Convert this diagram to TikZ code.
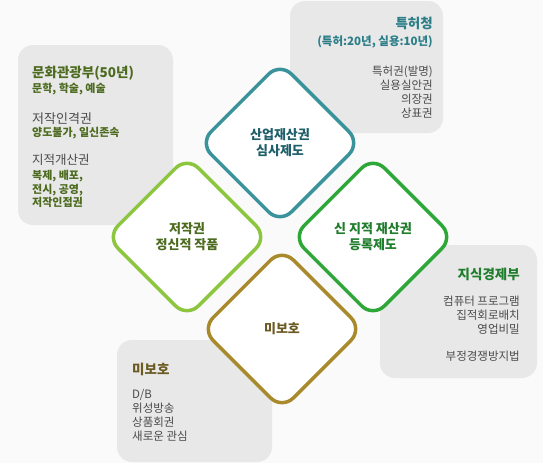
\documentclass[tikz,border=0pt]{standalone}
\usepackage{fontspec}
\setmainfont{Noto Sans CJK KR}
\usetikzlibrary{shapes.geometric}
\definecolor{bgcol}{HTML}{FAFAFA}
\definecolor{boxcol}{HTML}{E8E8E8}
\definecolor{graytxt}{HTML}{4A4A4A}
\definecolor{tealline}{HTML}{3A939B}
\definecolor{tealtxt}{HTML}{1F5F69}
\definecolor{tealhead}{HTML}{2B7E87}
\definecolor{limeline}{HTML}{8CC63E}
\definecolor{limetxt}{HTML}{4D6B1F}
\definecolor{greenline}{HTML}{2DA737}
\definecolor{greentxt}{HTML}{1F7D2C}
\definecolor{oliveline}{HTML}{A88A2C}
\definecolor{olivetxt}{HTML}{6B5A22}
\begin{document}
\begin{tikzpicture} [x=1pt, y=-1pt,
  infobox/.style={fill=boxcol, rounded corners=15pt},
  petal/.style={diamond, aspect=1, fill=white, line width=3.5pt,
    rounded corners=16pt, minimum size=162pt, inner sep=0pt, align=center,
    font=\fontsize{13}{16}\selectfont\bfseries},
  head/.style={inner sep=0pt, font=\fontsize{13.5}{15}\selectfont\bfseries},
  sub/.style={inner sep=0pt, font=\fontsize{11.5}{14}\selectfont},
  subb/.style={inner sep=0pt, font=\fontsize{11}{13.5}\selectfont\bfseries}]
\useasboundingbox (0,0) rectangle (543,463);
\fill[bgcol] (0,0) rectangle (543,463);
% grey boxes
\fill[infobox] (18,45) rectangle (173,225);
\fill[infobox] (290,1) rectangle (443,133);
\fill[infobox] (380,245) rectangle (537,378);
\fill[infobox] (117,340) rectangle (272,462);
% diamonds
\node[petal, draw=tealline, text=tealtxt] (sanup) at (280,143) {\\[-6pt]산업재산권\\심사제도};
\node[petal, draw=limeline, text=limetxt] (jeojak) at (187,237) {저작권\\정신적 작품};
\node[petal, draw=greenline, text=greentxt] (sinji) at (373,237) {\\[-6pt]신 지적 재산권\\등록제도};
\node[petal, draw=oliveline, text=olivetxt] (mibo) at (282,329) {미보호};
% left box
\node[head, anchor=west, text=limetxt] (munhwa) at (32,73) {문화관광부(50년)};
\node[subb, anchor=west, text=limetxt] (munhak) at (32,89) {문학, 학술, 예술};
\node[sub, anchor=west, text=graytxt, font=\fontsize{13}{14}\selectfont] (ingyeok) at (32,119) {저작인격권};
\node[subb, anchor=west, text=limetxt] (yangdo) at (32,133) {양도불가, 일신존속};
\node[sub, anchor=west, text=graytxt, font=\fontsize{12.5}{14}\selectfont] (gaesan) at (32,160) {지적개산권};
\node[subb, anchor=west, text=limetxt, align=left] (bokje) at (32,189) {복제, 배포,\\전시, 공영,\\저작인접권};
% top right box
\node[head, anchor=east, text=tealhead] (teukheo) at (433,23) {특허청};
\node[subb, anchor=east, text=tealhead, font=\fontsize{11.5}{14}\selectfont\bfseries] (gigan) at (433,42) {(특허:20년, 실용:10년)};
\node[sub, anchor=east, text=graytxt, align=right] (teukgwon) at (433,92.5) {특허권(발명)\\실용실안권\\의장권\\상표권};
% right box
\node[head, anchor=east, text=greentxt] (jisik) at (520,274) {지식경제부};
\node[sub, anchor=east, text=graytxt, align=right] (keom) at (520,315) {컴퓨터 프로그램\\집적회로배치\\영업비밀};
\node[sub, anchor=east, text=graytxt] (bujeong) at (520,356) {부정경쟁방지법};
% bottom left box
\node[head, anchor=west, text=olivetxt] (mibohead) at (132,369) {미보호};
\node[sub, anchor=west, text=graytxt, align=left] (db) at (132,415.5) {D/B\\위성방송\\상품회권\\새로운 관심};
\end{tikzpicture}
\end{document}
